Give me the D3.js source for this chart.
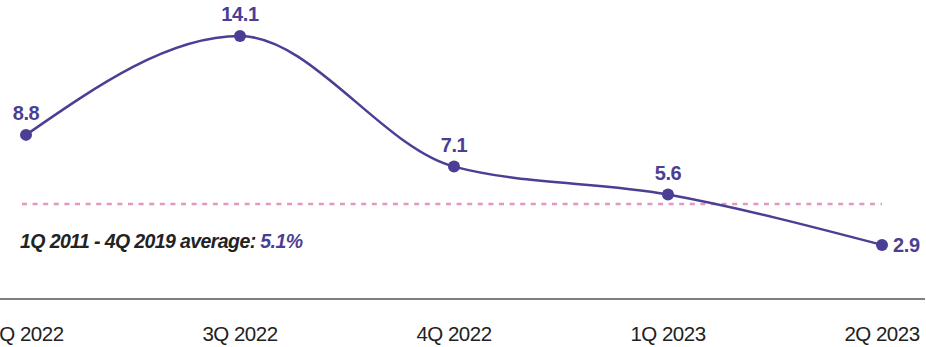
<!DOCTYPE html>
<html lang="en">
	<head>
		<meta charset="utf-8">
		<title>Quarterly rate vs long-run average</title>
		<script src="https://cdn.jsdelivr.net/npm/d3@7"></script>
		<style>
			body { margin: 0; background: #fff; }
			text { font-family: "Liberation Sans", Arial, sans-serif; }
		</style>
	</head>
	<body>
		<script>

			//Data
			let quarters = ["1Q 2022", "3Q 2022", "4Q 2022", "1Q 2023", "2Q 2023"];
			let values = [8.8, 14.1, 7.1, 5.6, 2.9];
			let average = 5.1;
			let averageLabel = "1Q 2011 - 4Q 2019 average: ";

			let w = 926;
			let h = 347;

			let lineColor = "#4a3f94";

			let svg = d3.select("body")
						.append("svg")
						  .attr("width", w)
						  .attr("height", h);

			//Scales
			let x = d3.scalePoint()
						.domain(quarters)
						.range([26, 882]);

			let y = d3.scaleLinear()
						.domain([0, 16])
						.range([299, 0.6]);

			let data = quarters.map((q, i) => ({ q: q, v: values[i] }));

			//Baseline axis
			svg.append("line")
				.attr("x1", 0)
				.attr("x2", 925)
				.attr("y1", y(0))
				.attr("y2", y(0))
				.style("stroke", "#555")
				.style("stroke-width", 1.5);

			//Category labels
			svg.selectAll("text.tick")
				.data(quarters)
				.enter()
			  .append("text")
				.attr("class", "tick")
				.attr("x", d => x(d))
				.attr("y", 341)
				.attr("text-anchor", "middle")
				.style("font-size", "20.5px")
				.style("letter-spacing", "-0.5px")
				.style("fill", "#222")
				.text(d => d);

			//Average reference line
			svg.append("line")
				.attr("x1", 22)
				.attr("x2", 882)
				.attr("y1", y(average))
				.attr("y2", y(average))
				.style("stroke", "#e697bf")
				.style("stroke-width", 2.5)
				.style("stroke-dasharray", "5,5.6");

			let note = svg.append("text")
				.attr("x", 20)
				.attr("y", 248)
				.style("font-size", "19.5px")
				.style("font-weight", "bold")
				.style("font-style", "italic")
				.style("letter-spacing", "-0.6px")
				.style("fill", "#222");
			note.append("tspan").text(averageLabel);
			note.append("tspan").style("fill", lineColor).text(average + "%");

			//Line
			let line = d3.line()
						.x(d => x(d.q))
						.y(d => y(d.v))
						.curve(d3.curveMonotoneX);

			svg.append("path")
				.datum(data)
				.attr("d", line)
				.style("fill", "none")
				.style("stroke", lineColor)
				.style("stroke-width", 2.5);

			svg.selectAll("circle")
				.data(data)
				.enter()
			  .append("circle")
				.attr("cx", d => x(d.q))
				.attr("cy", d => y(d.v))
				.attr("r", 6)
				.style("fill", lineColor);

			//Value labels
			svg.selectAll("text.val")
				.data(data)
				.enter()
			  .append("text")
				.attr("class", "val")
				.attr("x", (d, i) => i == data.length - 1 ? x(d.q) + 11 : x(d.q))
				.attr("y", (d, i) => i == data.length - 1 ? y(d.v) + 7 : y(d.v) - 15)
				.attr("text-anchor", (d, i) => i == data.length - 1 ? "start" : "middle")
				.style("font-size", "20px")
				.style("font-weight", "bold")
				.style("letter-spacing", "-0.4px")
				.style("fill", lineColor)
				.text(d => d.v.toFixed(1));

		</script>
	</body>
</html>
